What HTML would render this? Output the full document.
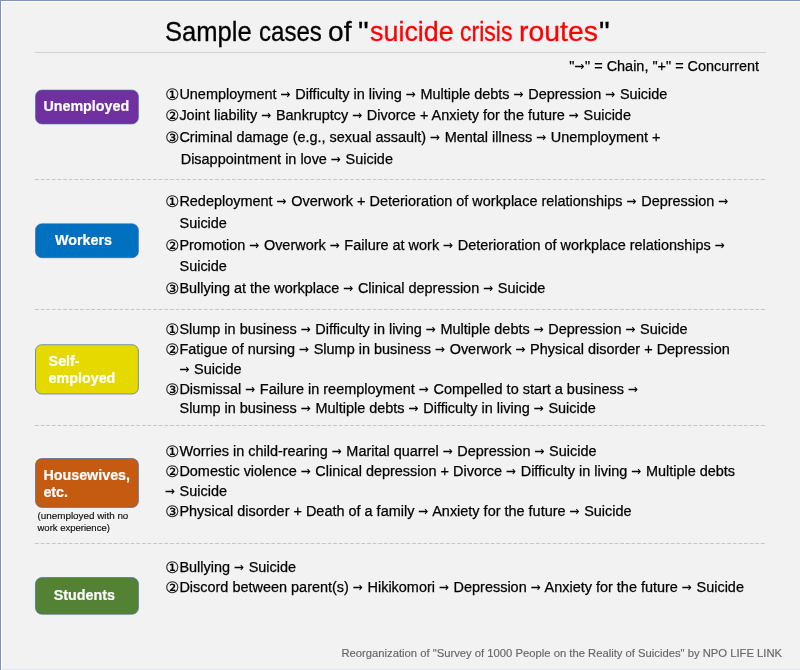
<!DOCTYPE html>
<html lang="en"><head><meta charset="utf-8"><title>Sample cases of suicide crisis routes</title>
<style>
html,body{margin:0;padding:0;}
body{width:800px;height:670px;background:#f2f2f2;position:relative;overflow:hidden;font-family:"Liberation Sans",sans-serif;color:#000;}
#w{position:absolute;left:0;top:0;width:800px;height:670px;will-change:transform;}
.bt{position:absolute;left:0;top:0;width:800px;height:1px;background:#8094ba;}
.bl{position:absolute;left:0;top:0;width:1px;height:670px;background:#8094ba;}
.wt{position:absolute;left:1px;top:1px;width:799px;height:1px;background:#fffefb;}
.wl{position:absolute;left:1px;top:1px;width:1px;height:669px;background:#fffefb;}
.bb{position:absolute;left:2px;top:669px;width:798px;height:1px;background:#e1e5ec;}
.t{position:absolute;left:0;top:11.8px;font-size:27.4px;line-height:40px;white-space:pre;-webkit-text-stroke:0.3px #000;}
.t span{position:absolute;top:0;transform-origin:0 0;}
.t .r{color:#ff0000;-webkit-text-stroke-color:#ff0000;}
.hr{position:absolute;left:35px;top:52px;width:730.6px;height:1px;background:#d0d0d0;}
.dash{position:absolute;left:35px;width:730px;height:1px;display:block;overflow:visible;}
.l,.leg{-webkit-text-stroke:0.25px #000;position:absolute;font-size:14.46px;line-height:20px;white-space:nowrap;}
.l i{font-style:normal;font-family:"DejaVu Sans",sans-serif;display:inline-block;width:13.9px;font-size:15.7px;line-height:1;text-indent:-0.2px;position:relative;top:1px;-webkit-text-stroke:0.25px #000;}
.l u,.leg u{text-decoration:none;font-family:"DejaVu Sans Mono",monospace;display:inline-block;width:10.6px;font-size:16.6px;line-height:1;text-indent:0.2px;position:relative;top:0.05px;-webkit-text-stroke:0;}
.lab{position:absolute;left:35px;width:103.7px;border:1px solid transparent;-webkit-text-stroke:0.2px #fff;color:#fff;font-weight:bold;font-size:14.3px;line-height:17px;box-sizing:border-box;}
.boxes{position:absolute;left:0;top:0;display:block;}
.lab span{position:absolute;white-space:nowrap;}
.ft{position:absolute;font-size:11.25px;line-height:14px;color:#666;white-space:nowrap;-webkit-text-stroke:0.15px #666;}
.sub{position:absolute;font-size:9.5px;line-height:12px;white-space:nowrap;-webkit-text-stroke:0.15px #000;color:#111;}
</style></head><body><div id="w">
<div class="bt"></div><div class="bl"></div><div class="wt"></div><div class="wl"></div><div class="bb"></div>
<div class="t"><span style="left:164.7px;transform:scaleX(0.934)">Sample </span><span style="left:258.5px;transform:scaleX(0.879)">cases </span><span style="left:328.0px;transform:scaleX(1.027)">of </span><span style="left:357.6px;transform:scaleX(1.100)">"</span><span class="r" style="left:369.5px;transform:scaleX(0.982)">suicide </span><span class="r" style="left:459.9px;transform:scaleX(0.841)">crisis </span><span class="r" style="left:519.4px;transform:scaleX(1.037)">routes</span><span style="left:598.7px;transform:scaleX(1.100)">"</span></div>
<div class="hr"></div>
<div class="leg" style="left:569.3px;top:55.60px">"<u>→</u>" = Chain, "+" = Concurrent</div>

<svg class="boxes" width="800" height="670" viewBox="0 0 800 670"><rect x="35.50" y="90.10" width="102.90" height="33.80" rx="6.3" ry="6.3" fill="#7030a0" stroke="#3f6ba3" stroke-opacity="0.85" stroke-width="0.80"/><rect x="35.50" y="223.80" width="102.90" height="33.90" rx="6.3" ry="6.3" fill="#0070c0" stroke="#3f6ba3" stroke-opacity="0.85" stroke-width="0.80"/><rect x="35.50" y="344.70" width="102.90" height="49.30" rx="6.3" ry="6.3" fill="#e5d900" stroke="#3f6ba3" stroke-opacity="0.85" stroke-width="0.80"/><rect x="35.50" y="458.50" width="102.90" height="48.90" rx="6.3" ry="6.3" fill="#c55a11" stroke="#3f6ba3" stroke-opacity="0.85" stroke-width="0.80"/><rect x="35.50" y="577.60" width="102.90" height="36.60" rx="6.3" ry="6.3" fill="#548235" stroke="#3f6ba3" stroke-opacity="0.85" stroke-width="0.80"/></svg>
<div class="lab" style="top:89.5px;height:34.7px"><span style="left:7.4px;top:7.8px">Unemployed</span></div>
<div class="lab" style="top:223.4px;height:34.7px"><span style="left:19px;top:7.6px">Workers</span></div>
<div class="lab" style="top:344.2px;height:50.2px"><span style="left:12.6px;top:7.6px">Self-</span><span style="left:12.6px;top:24.5px">employed</span></div>
<div class="lab" style="top:458px;height:49.8px"><span style="left:7.4px;top:8.3px">Housewives,</span><span style="left:7.4px;top:24.9px">etc.</span></div>
<div class="lab" style="top:577.2px;height:37.4px"><span style="left:17.8px;top:8.7px">Students</span></div>
<div class="sub" style="left:37.5px;top:510.1px;font-size:9.85px">(unemployed with no</div>
<div class="sub" style="left:37.5px;top:521.9px">work experience)</div>

<div class="l" style="left:165.5px;top:84px"><i>①</i>Unemployment <u>→</u> Difficulty in living <u>→</u> Multiple debts <u>→</u> Depression <u>→</u> Suicide</div>
<div class="l" style="left:165.5px;top:105px"><i>②</i>Joint liability <u>→</u> Bankruptcy <u>→</u> Divorce + Anxiety for the future <u>→</u> Suicide</div>
<div class="l" style="left:165.5px;top:127px"><i>③</i>Criminal damage (e.g., sexual assault) <u>→</u> Mental illness <u>→</u> Unemployment +</div>
<div class="l" style="left:180.7px;top:149px">Disappointment in love <u>→</u> Suicide</div>
<div class="l" style="left:165.5px;top:191px"><i>①</i>Redeployment <u>→</u> Overwork + Deterioration of workplace relationships <u>→</u> Depression <u>→</u></div>
<div class="l" style="left:179.5px;top:213px">Suicide</div>
<div class="l" style="left:165.5px;top:235px"><i>②</i>Promotion <u>→</u> Overwork <u>→</u> Failure at work <u>→</u> Deterioration of workplace relationships <u>→</u></div>
<div class="l" style="left:179.5px;top:256px">Suicide</div>
<div class="l" style="left:165.5px;top:278px"><i>③</i>Bullying at the workplace <u>→</u> Clinical depression <u>→</u> Suicide</div>
<div class="l" style="left:165.5px;top:319px"><i>①</i>Slump in business <u>→</u> Difficulty in living <u>→</u> Multiple debts <u>→</u> Depression <u>→</u> Suicide</div>
<div class="l" style="left:165.5px;top:339px"><i>②</i>Fatigue of nursing <u>→</u> Slump in business <u>→</u> Overwork <u>→</u> Physical disorder + Depression</div>
<div class="l" style="left:179.5px;top:359px"><u>→</u> Suicide</div>
<div class="l" style="left:165.5px;top:379px"><i>③</i>Dismissal <u>→</u> Failure in reemployment <u>→</u> Compelled to start a business <u>→</u></div>
<div class="l" style="left:179.5px;top:398px">Slump in business <u>→</u> Multiple debts <u>→</u> Difficulty in living <u>→</u> Suicide</div>
<div class="l" style="left:165.5px;top:441px"><i>①</i>Worries in child-rearing <u>→</u> Marital quarrel <u>→</u> Depression <u>→</u> Suicide</div>
<div class="l" style="left:165.5px;top:461px"><i>②</i>Domestic violence <u>→</u> Clinical depression + Divorce <u>→</u> Difficulty in living <u>→</u> Multiple debts</div>
<div class="l" style="left:165.0px;top:481px"><u>→</u> Suicide</div>
<div class="l" style="left:165.5px;top:501px"><i>③</i>Physical disorder + Death of a family <u>→</u> Anxiety for the future <u>→</u> Suicide</div>
<div class="l" style="left:165.5px;top:557px"><i>①</i>Bullying <u>→</u> Suicide</div>
<div class="l" style="left:165.5px;top:577px"><i>②</i>Discord between parent(s) <u>→</u> Hikikomori <u>→</u> Depression <u>→</u> Anxiety for the future <u>→</u> Suicide</div>

<svg class="dash" style="top:179px" width="730" height="1" viewBox="0 0 730 1"><line x1="0" y1="0.5" x2="729.7" y2="0.5" stroke="#c6c6c6" stroke-width="1" stroke-dasharray="3.75 1.8775"/></svg>
<svg class="dash" style="top:309px" width="730" height="1" viewBox="0 0 730 1"><line x1="0" y1="0.5" x2="729.7" y2="0.5" stroke="#c6c6c6" stroke-width="1" stroke-dasharray="3.75 1.8775"/></svg>
<svg class="dash" style="top:425px" width="730" height="1" viewBox="0 0 730 1"><line x1="0" y1="0.5" x2="729.7" y2="0.5" stroke="#c6c6c6" stroke-width="1" stroke-dasharray="3.75 1.8775"/></svg>
<svg class="dash" style="top:543px" width="730" height="1" viewBox="0 0 730 1"><line x1="0" y1="0.5" x2="729.7" y2="0.5" stroke="#c6c6c6" stroke-width="1" stroke-dasharray="3.75 1.8775"/></svg>
<div class="ft" style="left:341.4px;top:646.3px">Reorganization of "Survey of 1000 People on the Reality of Suicides" by NPO LIFE LINK</div>
</div></body></html>
